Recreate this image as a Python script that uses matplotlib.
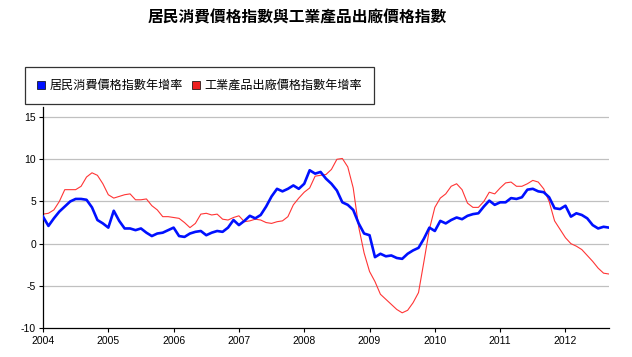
import numpy as np
import matplotlib
matplotlib.use("Agg")
import matplotlib.pyplot as plt
from matplotlib.lines import Line2D

plt.rcParams['font.family'] = ['Noto Sans CJK TC', 'DejaVu Sans']

title = '居民消費價格指數與工業產品出廠價格指數'
cpi_label = '居民消費價格指數年增率'
ppi_label = '工業產品出廠價格指數年增率'

start_year = 2004
years = list(range(2004, 2013))

# monthly year-on-year rates, Jan 2004 .. Sep 2012
cpi = [3.2, 2.1, 3.0, 3.8, 4.4, 5.0, 5.3, 5.3, 5.2, 4.3, 2.8, 2.4,
       1.9, 3.9, 2.7, 1.8, 1.8, 1.6, 1.8, 1.3, 0.9, 1.2, 1.3, 1.6,
       1.9, 0.9, 0.8, 1.2, 1.4, 1.5, 1.0, 1.3, 1.5, 1.4, 1.9, 2.8,
       2.2, 2.7, 3.3, 3.0, 3.4, 4.4, 5.6, 6.5, 6.2, 6.5, 6.9, 6.5,
       7.1, 8.7, 8.3, 8.5, 7.7, 7.1, 6.3, 4.9, 4.6, 4.0, 2.4, 1.2,
       1.0, -1.6, -1.2, -1.5, -1.4, -1.7, -1.8, -1.2, -0.8, -0.5, 0.6, 1.9,
       1.5, 2.7, 2.4, 2.8, 3.1, 2.9, 3.3, 3.5, 3.6, 4.4, 5.1, 4.6,
       4.9, 4.9, 5.4, 5.3, 5.5, 6.4, 6.5, 6.2, 6.1, 5.5, 4.2, 4.1,
       4.5, 3.2, 3.6, 3.4, 3.0, 2.2, 1.8, 2.0, 1.9]

ppi = [3.5, 3.6, 4.0, 5.0, 6.4, 6.4, 6.4, 6.8, 7.9, 8.4, 8.1, 7.1,
       5.8, 5.4, 5.6, 5.8, 5.9, 5.2, 5.2, 5.3, 4.5, 4.0, 3.2, 3.2,
       3.1, 3.0, 2.5, 1.9, 2.4, 3.5, 3.6, 3.4, 3.5, 2.9, 2.8, 3.1,
       3.3, 2.6, 2.7, 2.9, 2.8, 2.5, 2.4, 2.6, 2.7, 3.2, 4.6, 5.4,
       6.1, 6.6, 8.0, 8.1, 8.2, 8.8, 10.0, 10.1, 9.1, 6.6, 2.0, -1.1,
       -3.3, -4.5, -6.0, -6.6, -7.2, -7.8, -8.2, -7.9, -7.0, -5.8, -2.1, 1.7,
       4.3, 5.4, 5.9, 6.8, 7.1, 6.4, 4.8, 4.3, 4.3, 5.0, 6.1, 5.9,
       6.6, 7.2, 7.3, 6.8, 6.8, 7.1, 7.5, 7.3, 6.5, 5.0, 2.7, 1.7,
       0.7, 0.0, -0.3, -0.7, -1.4, -2.1, -2.9, -3.5, -3.6]

yticks = [15, 10, 5, 0, -5, -10]

t = start_year + np.arange(len(cpi)) / 12.0

fig = plt.figure(figsize=(6.32, 3.57), dpi=100)
ax = fig.add_axes([43/632, 1-328/357, (609-43)/632, (328-107)/357])

for y in yticks[:-1]:
    ax.axhline(y, color='#c0c0c0', lw=0.9, zorder=0)

ax.plot(t, ppi, color='#ff3535', lw=0.8, zorder=2, solid_joinstyle='round')
ax.plot(t, cpi, color='#0010ff', lw=1.9, zorder=3, solid_joinstyle='round')

ax.set_xlim(start_year, start_year + (len(cpi) - 1) / 12.0)
ax.set_ylim(-10, 16.2)
ax.set_xticks(years)
ax.set_xticklabels([str(y) for y in years])
ax.set_yticks(yticks)
ax.set_yticklabels([str(y) for y in yticks])
ax.tick_params(axis='both', direction='out', length=3, width=0.8, labelsize=7.5)
ax.tick_params(axis='x', pad=3)
ax.tick_params(axis='y', pad=2)
for lab in ax.get_xticklabels() + ax.get_yticklabels():
    lab.set_family(['Liberation Sans Narrow', 'Liberation Sans'])
for s in ['top', 'right']:
    ax.spines[s].set_visible(False)
for s in ['left', 'bottom']:
    ax.spines[s].set_color('black')
    ax.spines[s].set_linewidth(0.9)

fig.text(297/632, 1-17/357, title, ha='center', va='center', fontsize=11.3, fontweight='bold')

handles = [Line2D([], [], marker='s', linestyle='', color='#0010ff', markersize=6,
                  markeredgecolor='black', markeredgewidth=0.5),
           Line2D([], [], marker='s', linestyle='', color='#ee2020', markersize=6,
                  markeredgecolor='black', markeredgewidth=0.5)]
leg = fig.legend(handles, [cpi_label, ppi_label], loc='upper left',
                 bbox_to_anchor=(25/632, 1-67/357), ncol=2, fontsize=8.7,
                 frameon=True, fancybox=False, edgecolor='black', borderaxespad=0,
                 handlelength=0.7, handletextpad=0.35, columnspacing=0.7, borderpad=1.0)
leg.get_frame().set_linewidth(0.9)

fig.savefig('out.png', dpi=100)
